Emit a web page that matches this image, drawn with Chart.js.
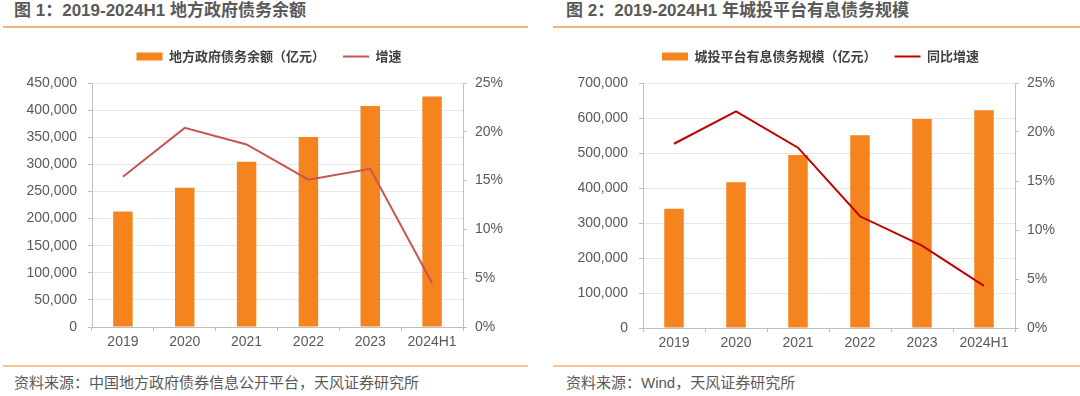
<!DOCTYPE html>
<html>
<head>
<meta charset="utf-8">
<script src="https://cdn.jsdelivr.net/npm/chart.js@4/dist/chart.umd.min.js"></script>
<style>
  html, body { margin: 0; padding: 0; background: #ffffff; }
  body { width: 1080px; height: 396px; position: relative; overflow: hidden;
         font-family: "Liberation Sans", "Noto Sans CJK SC", sans-serif; }
  .title { position: absolute; top: 1px; font-size: 17px; font-weight: bold; color: #595959;
           line-height: 20px; white-space: nowrap; }
  .src { position: absolute; top: 373px; font-size: 15px; color: #595959; line-height: 20px; white-space: nowrap; }
  .rule { position: absolute; height: 2px; background: #F6B07A; }
  canvas { position: absolute; }
</style>
</head>
<body>
<div class="title" style="left:14px;">图 1：2019-2024H1 地方政府债务余额</div>
<div class="title" style="left:566px;">图 2：2019-2024H1 年城投平台有息债务规模</div>
<div class="rule" style="left:3px; width:525px; top:26px;"></div>
<div class="rule" style="left:553px; width:527px; top:26px;"></div>
<div class="rule" style="left:3px; width:525px; top:365px; background:#F8C597;"></div>
<div class="rule" style="left:553px; width:527px; top:365px; background:#F8C597;"></div>
<div class="src" style="left:14px;">资料来源：中国地方政府债券信息公开平台，天风证券研究所</div>
<div class="src" style="left:566px;">资料来源：Wind，天风证券研究所</div>

<canvas id="c1" width="538" height="327" style="left:0px; top:30px;"></canvas>
<canvas id="c2" width="519" height="328" style="left:561px; top:30px;"></canvas>

<script>
// ---- data ----
const categories = ['2019', '2020', '2021', '2022', '2023', '2024H1'];

const localDebtLabel = '地方政府债务余额（亿元）';
const localGrowthLabel = '增速';
const localDebt = [213000, 256600, 304700, 350600, 407400, 425000];
const localGrowth = [15.4, 20.4, 18.7, 15.1, 16.2, 4.5];

const lgfvDebtLabel = '城投平台有息债务规模（亿元）';
const lgfvGrowthLabel = '同比增速';
const lgfvDebt = [340900, 416300, 494300, 550600, 597100, 622000];
const lgfvGrowth = [18.8, 22.1, 18.4, 11.4, 8.4, 4.3];

const leftAxisMax1 = 450000, leftAxisStep1 = 50000;
const leftAxisMax2 = 700000, leftAxisStep2 = 100000;
const pctMax = 25, pctStep = 5;

// ---- styling ----
const tickFont = { family: '"Liberation Sans", "Noto Sans CJK SC", sans-serif', size: 14 };
const tickColor = '#595959';
const axisGrey = '#BFBFBF';
const gridGrey = '#E8E8E8';
const barColor = '#F5841F';

const legendGap = {
  id: 'legendGap',
  beforeLayout(chart, args, opts) {
    const lg = chart.legend;
    if (lg && !lg._gapPatched) {
      const fit = lg.fit;
      lg.fit = function () { fit.call(this); this.height += (opts.extra || 0); };
      lg._gapPatched = true;
    }
  }
};

function makeChart(id, barLabel, barData, lineLabel, lineData, lineColor, yMax, yStep, leftW, rightW) {
  return new Chart(document.getElementById(id), {
    type: 'bar',
    data: {
      labels: categories,
      datasets: [
        {
          type: 'line', label: lineLabel, data: lineData, yAxisID: 'y1',
          borderColor: lineColor, backgroundColor: lineColor, borderWidth: 2,
          pointRadius: 0, pointHoverRadius: 0, pointStyle: 'line', tension: 0, order: 0
        },
        {
          type: 'bar', label: barLabel, data: barData, yAxisID: 'y',
          backgroundColor: barColor, borderWidth: 0, pointStyle: 'rect',
          barPercentage: 0.315, categoryPercentage: 1.0, order: 1
        }
      ]
    },
    options: {
      responsive: false,
      animation: false,
      devicePixelRatio: 1,
      layout: { padding: { top: 2, left: 0, right: 0, bottom: 0 } },
      plugins: {
        legend: {
          display: true, position: 'top', align: 'center', reverse: true,
          labels: {
            usePointStyle: true, pointStyleWidth: 26, boxHeight: 8, padding: 18,
            color: '#404040',
            font: { family: '"Noto Sans CJK SC", "Liberation Sans", sans-serif', size: 13, weight: 'bold' }
          }
        },
        legendGap: { extra: 10 },
        tooltip: { enabled: false }
      },
      scales: {
        x: {
          offset: true,
          grid: { display: true, offset: true, drawOnChartArea: false, tickLength: 4, tickColor: axisGrey },
          border: { display: true, color: axisGrey, width: 1 },
          ticks: { color: tickColor, font: tickFont, padding: 3, maxRotation: 0 },
          afterFit(scale) { scale.height = 30; }
        },
        y: {
          position: 'left', min: 0, max: yMax,
          ticks: { stepSize: yStep, color: tickColor, font: tickFont, padding: 11,
                   callback: v => Number(v).toLocaleString('en-US') },
          grid: { drawOnChartArea: true, tickLength: 4, tickColor: axisGrey,
                  color: ctx => (ctx.tick && ctx.tick.value === 0) ? 'rgba(0,0,0,0)' : gridGrey },
          border: { display: true, color: axisGrey, width: 1 },
          afterFit(scale) { scale.width = leftW; }
        },
        y1: {
          position: 'right', min: 0, max: pctMax,
          ticks: { stepSize: pctStep, color: tickColor, font: tickFont, padding: 8,
                   callback: v => v + '%' },
          grid: { drawOnChartArea: false, tickLength: 4, tickColor: axisGrey },
          border: { display: true, color: axisGrey, width: 1 },
          afterFit(scale) { scale.width = rightW; }
        }
      }
    },
    plugins: [legendGap]
  });
}

makeChart('c1', localDebtLabel, localDebt, localGrowthLabel, localGrowth, '#C8554F',
          leftAxisMax1, leftAxisStep1, 92, 75);
makeChart('c2', lgfvDebtLabel, lgfvDebt, lgfvGrowthLabel, lgfvGrowth, '#C00000',
          leftAxisMax2, leftAxisStep2, 82, 65);
</script>
</body>
</html>
